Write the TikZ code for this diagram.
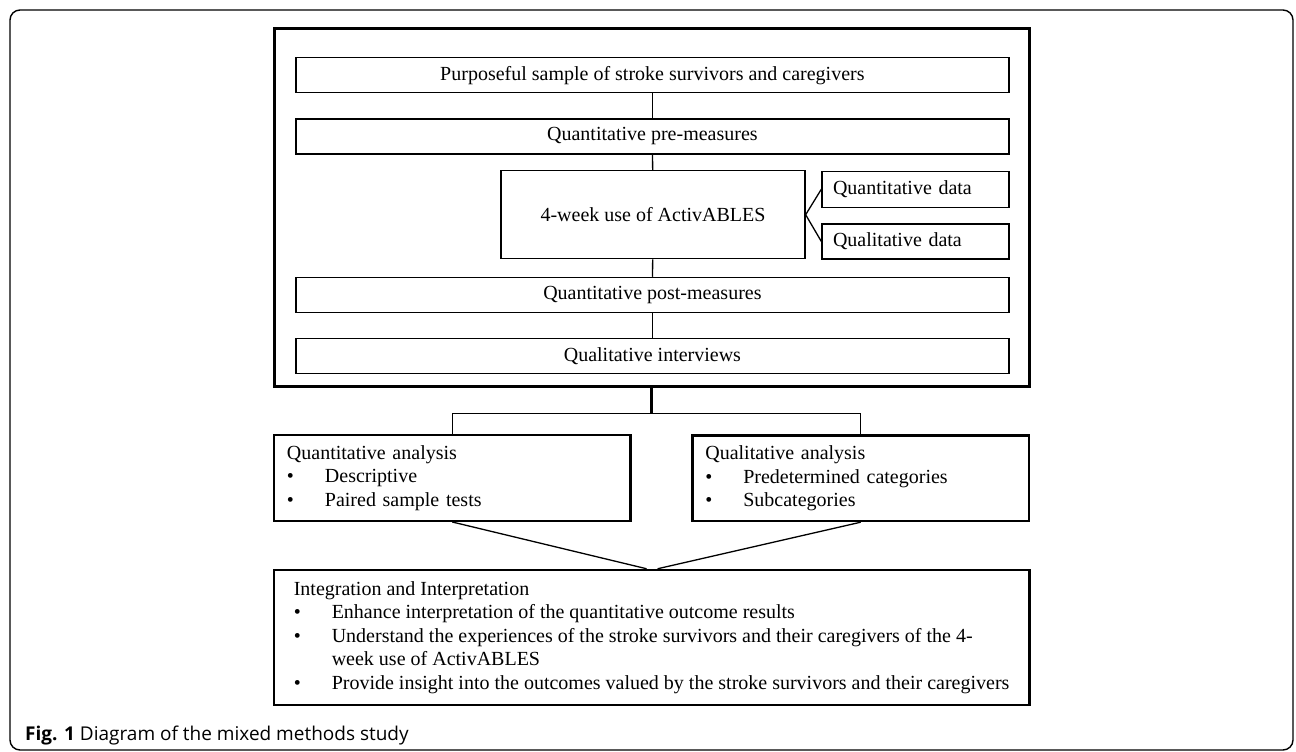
\documentclass[tikz,border=0pt]{standalone}
\usepackage{fontspec}
\setmainfont{Liberation Serif}
\newfontfamily\capfont{Open Sans}
\newcommand{\bul}{\makebox[38pt][l]{\textbullet}}

\begin{document}
\begin{tikzpicture}[x=1pt,y=1pt]
		\tikzstyle{every node}+=[inner sep=0pt, font=\fontsize{20}{23.5}\selectfont]
		\tikzstyle{stage}=[draw, line width=1.3pt, minimum width=713pt, minimum height=35pt]
		\tikzstyle{datum}=[draw, line width=1.3pt, minimum height=36pt, inner xsep=11pt, text width=165pt, align=left]
		\tikzstyle{result}=[draw, line width=2.5pt, inner xsep=13pt, align=left]
		\tikzstyle{link}=[line width=1.3pt]
		\useasboundingbox (0,0) rectangle (1296,-752);
		\draw [line width=1.4pt, rounded corners=10pt] (10,-10) rectangle (1293,-750);
		% study block
		\node [draw, line width=3pt, minimum width=755pt, minimum height=357pt] (study) at (651.5,-207.5) {};
		\node [stage] (sample) at (652.4,-75.2) {Purposeful sample of stroke survivors and caregivers};
		\node [stage] (pre) at (652.4,-136.4) {Quantitative pre-measures};
		\node [draw, line width=1.3pt, minimum width=304pt, minimum height=88pt] (use) at (653,-214.7) {4-week use of ActivABLES};
		\node [datum] (quandata) at (915.5,-189.2) {Quantitative data};
		\node [datum, minimum height=35pt] (qualdata) at (915.5,-241.5) {Qualitative data};
		\node [stage] (post) at (652.4,-294.9) {Quantitative post-measures};
		\node [stage] (interviews) at (652.4,-356) {Qualitative interviews};
		\draw [link] (sample) -- (pre);
		\draw [link] (pre) -- (use);
		\draw [link] (use) -- (post);
		\draw [link] (post) -- (interviews);
		\draw [link] (use.east) -- (quandata.west);
		\draw [link] (use.east) -- (qualdata.west);
		% analysis
		\node [result, text width=330.7pt, minimum height=85.7pt] (quanan) at (452.3,-477.9) {Quantitative analysis\\
			\bul Descriptive\\
			\bul Paired sample tests};
		\node [result, text width=310.7pt, minimum height=85.3pt] (qualan) at (860.7,-478.3) {Qualitative analysis\\
			\bul Predetermined categories\\
			\bul Subcategories};
		\draw [line width=2.8pt] (study.south) -- ++(0,-26) coordinate (split);
		\draw [link] (quanan.north) |- (split) -| (qualan.north);
		% integration
		\node [result, minimum width=755.3pt, minimum height=135pt] (merge) at (651.6,-637.5) {Integration and Interpretation\\
			\bul Enhance interpretation of the quantitative outcome results\\
			\bul Understand the experiences of the stroke survivors and their caregivers of the 4-\\
			\hspace*{38pt}week use of ActivABLES\\
			\bul Provide insight into the outcomes valued by the stroke survivors and their caregivers};
		\draw [link] (quanan.south) -- ([xshift=-5pt]merge.north);
		\draw [link] (qualan.south) -- ([xshift=6pt]merge.north);
		\node [anchor=base west, font=\capfont\fontsize{19}{22}\selectfont] (caption) at (25,-740) {\textbf{Fig. 1} Diagram of the mixed methods study};
	\end{tikzpicture}
\end{document}
